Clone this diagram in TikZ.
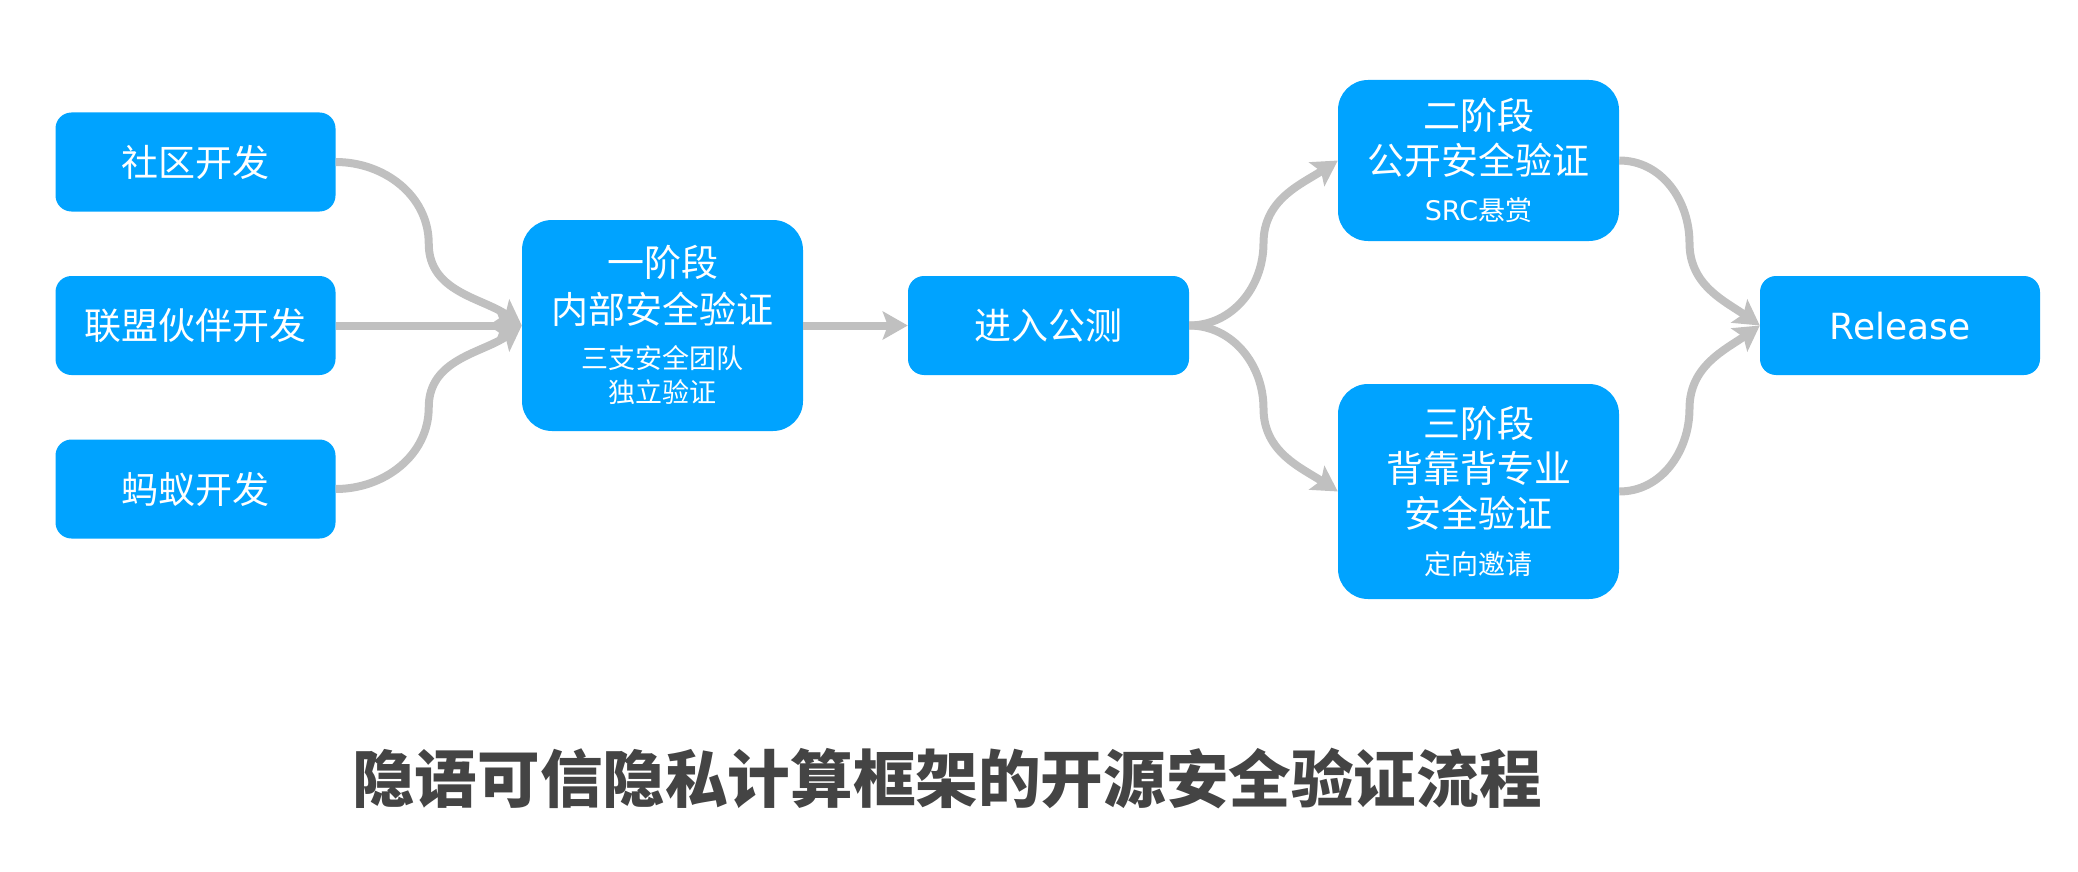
\documentclass[tikz,border=0pt]{standalone}
\usepackage{fontspec}
\setmainfont{Noto Sans CJK SC}
\newfontfamily\latf{DejaVu Sans}
\newfontfamily\titlef{Noto Sans CJK SC}
\usetikzlibrary{arrows.meta,calc}
\definecolor{boxblue}{RGB}{0,163,255}
\definecolor{conngray}{RGB}{192,192,192}
\definecolor{titlegray}{RGB}{68,68,68}
\tikzset{
  box/.style={fill=boxblue, draw=none, inner sep=0pt, text=white},
  smallbox/.style={box, rounded corners=16pt, minimum width=280pt, minimum height=99pt,
    font=\fontsize{37}{44}\selectfont, text height=30.7pt, text depth=2.6pt},
  tallbox/.style={box, rounded corners=30pt, minimum width=281pt},
  bigtxt/.style={text=white, inner sep=0pt, font=\fontsize{37}{44}\selectfont, text height=30.7pt, text depth=2.6pt},
  smalltxt/.style={text=white, inner sep=0pt, font=\fontsize{27}{32}\selectfont, text height=22.4pt, text depth=1.9pt},
  conn/.style={draw=conngray, line width=8pt, -{Stealth[length=25pt,width=28pt,inset=5pt]}},
}
\begin{document}
\begin{tikzpicture}[x=1pt,y=-1pt]
\useasboundingbox (0,0) rectangle (2078,872);
% left sources
\node[smallbox] (dev1) at (195.5,162) {社区开发};
\node[smallbox] (dev2) at (195.5,325.5) {联盟伙伴开发};
\node[smallbox] (dev3) at (195.5,489) {蚂蚁开发};
% stage one
\node[tallbox, minimum height=211pt] (st1) at (662.5,325.5) {};
\node[bigtxt] (st1a) at ([yshift=63.5pt]st1.center) {一阶段};
\node[bigtxt] (st1b) at ([yshift=16.5pt]st1.center) {内部安全验证};
\node[smalltxt] (st1c) at ([yshift=-32.5pt]st1.center) {三支安全团队};
\node[smalltxt] (st1d) at ([yshift=-66.5pt]st1.center) {独立验证};
% public test
\node[smallbox, minimum width=281pt] (test) at (1048.5,325.5) {进入公测};
% stage two
\node[tallbox, minimum height=161pt] (st2) at (1478.5,160.5) {};
\node[bigtxt] (st2a) at ([yshift=45.5pt]st2.center) {二阶段};
\node[bigtxt] (st2b) at ([yshift=0.5pt]st2.center) {公开安全验证};
\node[smalltxt] (st2c) at ([yshift=-49.5pt]st2.center) {{\latf SRC}悬赏};
% stage three
\node[tallbox, minimum height=215pt] (st3) at (1478.5,491.5) {};
\node[bigtxt] (st3a) at ([yshift=68.5pt]st3.center) {三阶段};
\node[bigtxt] (st3b) at ([yshift=23.5pt]st3.center) {背靠背专业};
\node[bigtxt] (st3c) at ([yshift=-21.5pt]st3.center) {安全验证};
\node[smalltxt] (st3d) at ([yshift=-72.5pt]st3.center) {定向邀请};
% release
\node[smallbox, font=\latf\fontsize{36}{44}\selectfont] (rel) at (1900,325.5) {Release};
% title
\node[inner sep=0pt, text=titlegray, font=\titlef\bfseries\fontsize{62.6}{70}\selectfont,
  text height=52pt, text depth=4.4pt] (title) at (947,779)
  {隐语可信隐私计算框架的开源安全验证流程};
% midpoints
\coordinate (m1) at ($(dev1.east)!0.5!(st1.west)$);
\coordinate (m3) at ($(dev3.east)!0.5!(st1.west)$);
\coordinate (m4) at ($(test.east)!0.5!(st2.west)$);
\coordinate (m5) at ($(test.east)!0.5!(st3.west)$);
\coordinate (m6) at ($(st2.east)!0.5!(rel.west)$);
\coordinate (m7) at ($(st3.east)!0.5!(rel.west)$);
% connectors
\draw[conn] (dev1.east) to[out=0,in=90] (m1) to[out=-90,in=145] (st1.west);
\draw[conn] (dev2.east) -- (st1.west);
\draw[conn] (dev3.east) to[out=0,in=-90] (m3) to[out=90,in=215] (st1.west);
\draw[conn] (st1.east) -- (test.west);
\draw[conn] (test.east) to[out=0,in=-90] (m4) to[out=90,in=213] (st2.west);
\draw[conn] (test.east) to[out=0,in=90] (m5) to[out=-90,in=147] (st3.west);
\draw[conn] (st2.east) to[out=0,in=90] (m6) to[out=-90,in=145] (rel.west);
\draw[conn] (st3.east) to[out=0,in=-90] (m7) to[out=90,in=215] (rel.west);
\end{tikzpicture}
\end{document}
